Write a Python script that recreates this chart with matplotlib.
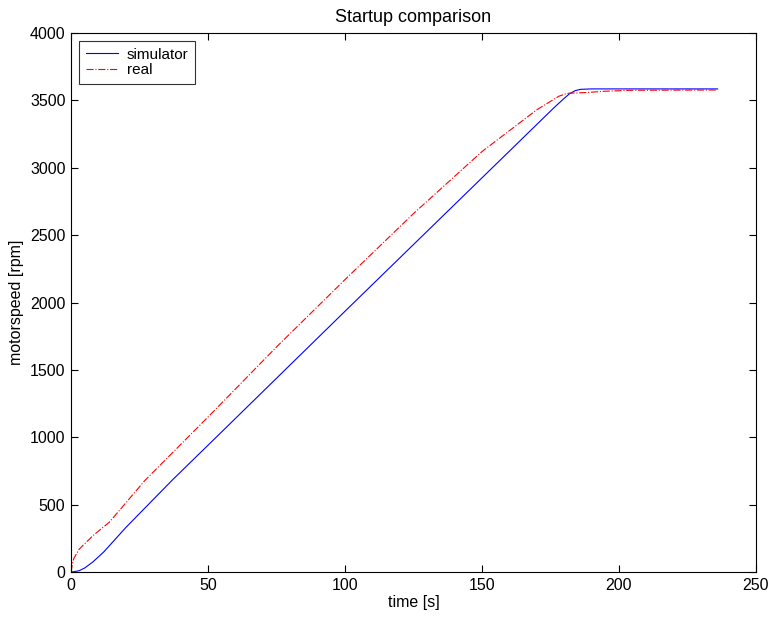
import numpy as np
import matplotlib
matplotlib.use("Agg")
import matplotlib.pyplot as plt

plt.rcParams['font.family'] = ['Liberation Sans', 'DejaVu Sans']

# simulator speed curve
sim_t = [0, 1, 3, 5, 8, 12, 20, 37, 55, 100, 150, 176, 180, 182, 184, 186, 190, 236]
sim_rpm = [0, 2, 10, 30, 75, 150, 330, 683, 1040, 1935, 2925, 3440, 3515, 3550, 3572, 3582, 3585, 3585]

# measured speed curve
real_t = [0, 0.5, 1, 3, 8, 14, 27, 50, 75, 100, 125, 150, 170, 178, 181, 184, 188, 195, 205, 236]
real_rpm = [0, 60, 100, 170, 270, 370, 680, 1150, 1670, 2170, 2660, 3120, 3430, 3530, 3552, 3555, 3558, 3568, 3575, 3577]

title = "Startup comparison"
xlabel = "time [s]"
ylabel = "motorspeed [rpm]"

fig = plt.figure(figsize=(7.71, 6.19), dpi=100)
ax = fig.add_axes([0.0921, 0.0759, 0.8884, 0.8708])

ax.plot(sim_t, sim_rpm, color='blue', linewidth=0.8, label='simulator')
ax.plot(real_t, real_rpm, color='red', linestyle='-.', linewidth=0.8, label='real')

ax.set_xlim(0, 250)
ax.set_ylim(0, 4000)
ax.set_xticks(np.arange(0, 251, 50))
ax.set_yticks(np.arange(0, 4001, 500))
ax.tick_params(direction='in', top=True, right=True, labelsize=11.5, length=5, pad=4)

ax.set_title(title, fontsize=13, pad=8)
ax.set_xlabel(xlabel, fontsize=11.5, labelpad=2)
ax.set_ylabel(ylabel, fontsize=11.5, labelpad=4)

leg = ax.legend(loc='upper left', fancybox=False, edgecolor='black', fontsize=11,
                borderaxespad=0.5, handlelength=2.1, handletextpad=0.6,
                labelspacing=0.1, borderpad=0.45)
leg.get_frame().set_linewidth(0.8)

fig.savefig("out.png", dpi=100)
